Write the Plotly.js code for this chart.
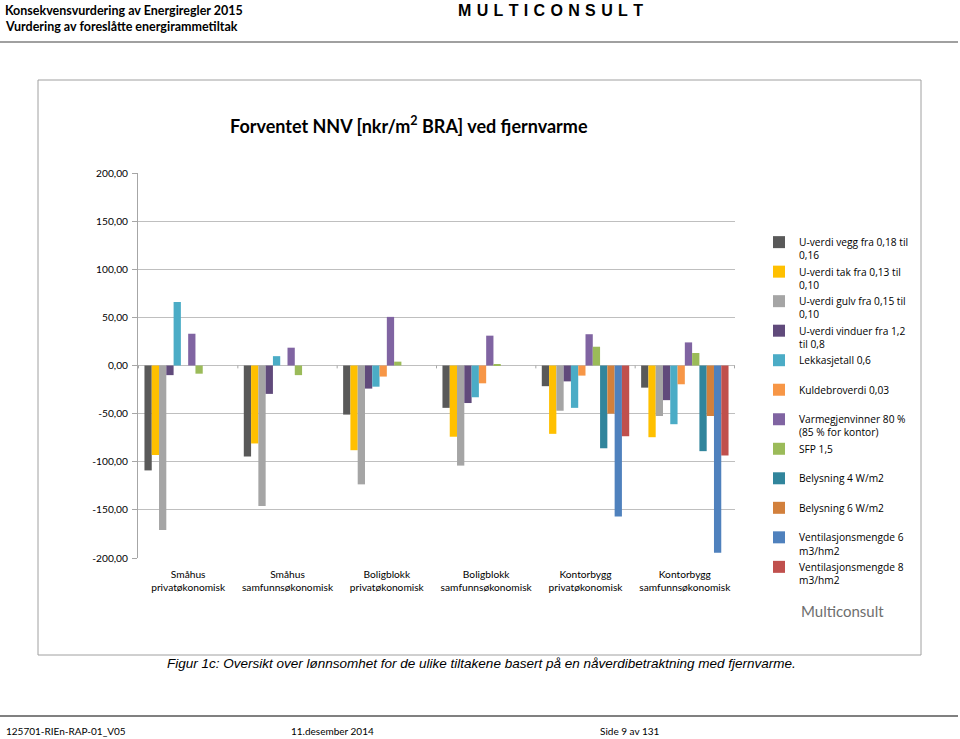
<!DOCTYPE html>
<html><head><meta charset="utf-8">
<script src="https://cdn.plot.ly/plotly-3.0.1.min.js"></script>
<style>html,body{margin:0;padding:0;background:#fff;}#chart{width:960px;height:739px;}</style>
</head><body><div id="chart"></div>
<script>
// ---- data ----
const categories = ["Småhus<br>privatøkonomisk", "Småhus<br>samfunnsøkonomisk", "Boligblokk<br>privatøkonomisk", "Boligblokk<br>samfunnsøkonomisk", "Kontorbygg<br>privatøkonomisk", "Kontorbygg<br>samfunnsøkonomisk"];
const seriesNames = [
  "U-verdi vegg fra 0,18 til<br>0,16",
  "U-verdi tak fra 0,13 til<br>0,10",
  "U-verdi gulv fra 0,15 til<br>0,10",
  "U-verdi vinduer fra 1,2<br>til 0,8",
  "Lekkasjetall 0,6<br>\u00a0",
  "Kuldebroverdi 0,03<br>\u00a0",
  "Varmegjenvinner 80 %<br>(85 % for kontor)",
  "SFP 1,5<br>\u00a0",
  "Belysning 4 W/m2<br>\u00a0",
  "Belysning 6 W/m2<br>\u00a0",
  "Ventilasjonsmengde 6<br>m3/hm2",
  "Ventilasjonsmengde 8<br>m3/hm2"
];
const uVegg           = [-109, -94.5, -51, -44, -21.5, -23];
const uTak            = [-93, -81, -88, -74, -71, -74.5];
const uGulv           = [-171, -146, -123.5, -104, -47, -52.5];
const uVinduer        = [-10, -29.5, -24, -39, -16.5, -36];
const lekkasje        = [66, 9.7, -22, -33, -44, -61];
const kuldebro        = [null, null, -11.5, -18.5, -10.5, -19.5];
const varmegjenvinner = [33, 18.5, 50.5, 31, 32.5, 24];
const sfp             = [-8.5, -10, 4, 0.6, 19.5, 13];
const belysning4      = [null, null, null, null, -86, -89];
const belysning6      = [null, null, null, null, -50, -52.5];
const vent6           = [null, null, null, null, -157, -194.5];
const vent8           = [null, null, null, null, -73.5, -93.5];
const yTickVals   = [200, 150, 100, 50, 0, -50, -100, -150, -200];
const yTickLabels = ["200,00", "150,00", "100,00", "50,00", "0,00", "-50,00", "-100,00", "-150,00", "-200,00"];

const seriesValues = [uVegg, uTak, uGulv, uVinduer, lekkasje, kuldebro, varmegjenvinner, sfp, belysning4, belysning6, vent6, vent8];
const colors = ["#595959", "#FFC000", "#A5A5A5", "#604A7B", "#4BACC6", "#F79646", "#8064A2", "#9BBB59", "#31859C", "#D2803C", "#4F81BD", "#C0504D"];

const traces = seriesValues.map((vals, i) => ({
  type: "bar", x: categories, y: vals, name: seriesNames[i],
  marker: {color: colors[i], line: {width: 0}}, hoverinfo: "y+name"
}));

// plot area in pixels (for placing page decorations)
const L = 138, R = 735, T = 173, B = 558;
const px = v => (v - L) / (R - L);
const py = v => (B - v) / (B - T);
const F = "Lato, 'Open Sans', sans-serif";
const O = "'Open Sans', Lato, sans-serif";
const A = "'Liberation Sans', Arial, sans-serif";

const shapes = [
  {type: "line", xref: "paper", yref: "paper", x0: px(0), x1: px(958), y0: py(42), y1: py(42), line: {color: "#808080", width: 1.5}},
  {type: "rect", xref: "paper", yref: "paper", x0: px(38), x1: px(921), y0: py(80), y1: py(655), line: {color: "#A0A0A0", width: 1}},
  {type: "line", xref: "paper", yref: "paper", x0: px(0), x1: px(958), y0: py(716), y1: py(716), line: {color: "#808080", width: 2}}
];
for (let i = 0; i <= categories.length; i++) {
  shapes.push({type: "line", xref: "x", yref: "y", x0: i - 0.5, x1: i - 0.5, y0: 0, y1: -3, line: {color: "#A6A6A6", width: 1}});
}

const ann = (text, x, y, size, opts = {}) => Object.assign({
  text, xref: "paper", yref: "paper", x: px(x), y: py(y), showarrow: false,
  xanchor: "left", yanchor: "middle", font: {family: F, size, color: "#000"}
}, opts);

const annotations = [
  ann("<b>Konsekvensvurdering av Energiregler 2015</b>", 3, 10, 12.5),
  ann("<b>Vurdering av foreslåtte energirammetiltak</b>", 3, 26, 12.5),
  ann("<b>M\u2004U\u2004L\u2004T\u2004I\u2004C\u2004O\u2004N\u2004S\u2004U\u2004L\u2004T</b>", 550, 10, 16, {xanchor: "center", font: {family: A, size: 16, color: "#000"}}),
  ann("<b>Forventet NNV [nkr/m<sup>2</sup> BRA] ved fjernvarme</b>", 409, 125, 18, {xanchor: "center"}),
  ann("Multiconsult", 843, 611, 15, {xanchor: "center", font: {family: F, size: 15, color: "#6E6E6E"}}),
  ann("<i>Figur 1c: Oversikt over lønnsomhet for de ulike tiltakene basert på en nåverdibetraktning med fjernvarme.</i>", 481, 663, 13.5, {xanchor: "center", font: {family: A, size: 13.5, color: "#000"}}),
  ann("125701-RIEn-RAP-01_V05", 4, 731, 10),
  ann("11.desember 2014", 289, 731, 10),
  ann("Side 9 av 131", 598, 731, 10)
];

const layout = {
  width: 960, height: 739,
  margin: {l: L, r: 960 - R, t: T, b: 739 - B, pad: 0},
  paper_bgcolor: "#fff", plot_bgcolor: "#fff",
  barmode: "group", bargap: 0.12, bargroupgap: 0,
  showlegend: true,
  legend: {
    xref: "container", yref: "container", x: 759 / 960, y: 1 - 229 / 739,
    xanchor: "left", yanchor: "top", valign: "top",
    font: {family: O, size: 10.2, color: "#000"}, bgcolor: "rgba(0,0,0,0)",
    tracegroupgap: 0, itemclick: false
  },
  xaxis: {
    type: "category", showgrid: false, showline: false, zeroline: false, ticks: "",
    ticklabelstandoff: 9,
    tickfont: {family: F, size: 10.2, color: "#000"}, fixedrange: true
  },
  yaxis: {
    range: [-200, 200], autorange: false, tickvals: yTickVals, ticktext: yTickLabels,
    showgrid: true, gridcolor: "#BFBFBF", gridwidth: 1,
    zeroline: true, zerolinecolor: "#BFBFBF", zerolinewidth: 1,
    showline: true, linecolor: "#A6A6A6", linewidth: 1,
    ticks: "outside", ticklen: 5, tickcolor: "#A6A6A6", ticklabelstandoff: 2,
    tickfont: {family: F, size: 10.2, color: "#000"}, fixedrange: true
  },
  shapes, annotations
};

Plotly.newPlot("chart", traces, layout, {displayModeBar: false});
</script></body></html>
